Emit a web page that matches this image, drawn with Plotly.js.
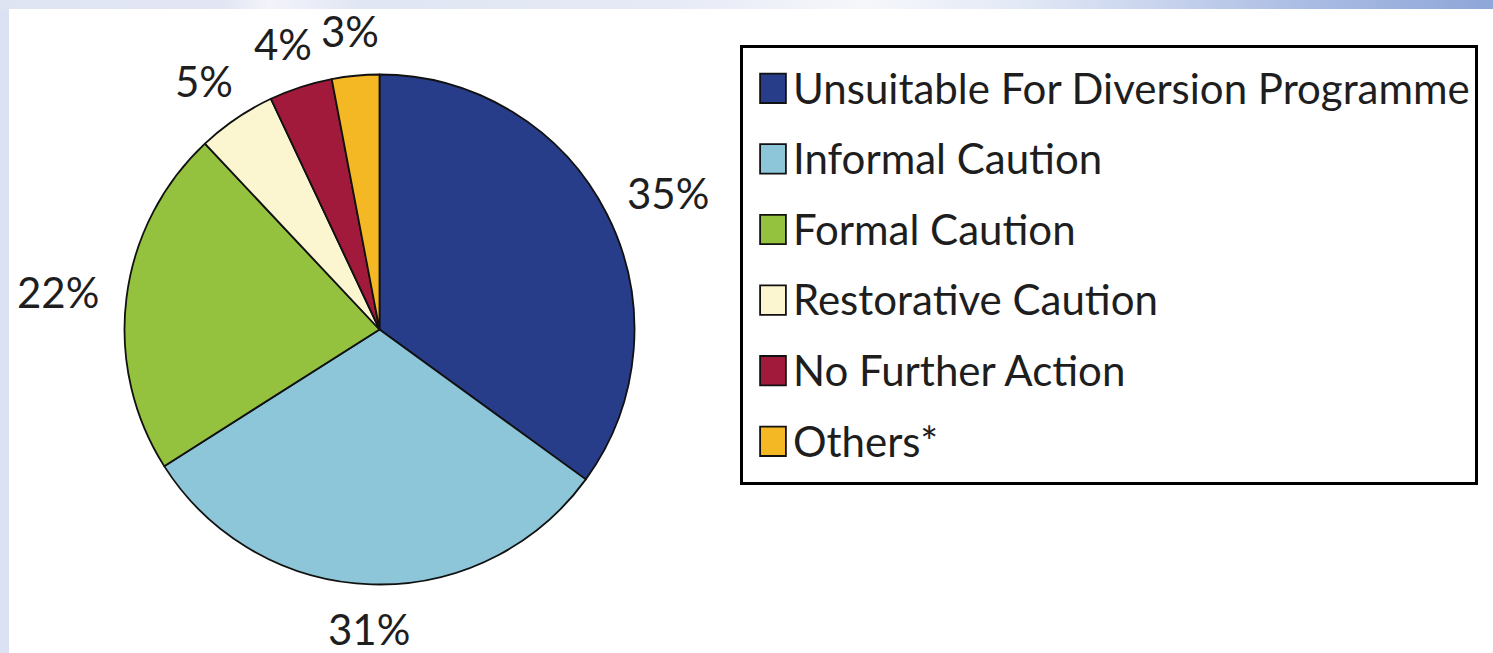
<!DOCTYPE html>
<html>
<head>
<meta charset="utf-8">
<script src="https://cdn.plot.ly/plotly-3.0.1.min.js"></script>
<style>
  html, body { margin: 0; padding: 0; background: #ffffff; }
  #chart {
    width: 1493px; height: 653px;
    background:
      linear-gradient(to right, #dfe4f3 0%, #e2e6f4 15%, #f3f4fa 18%, #e1e6f4 24%, #e6eaf6 45%, #f6f7fb 58%, #e3e9f6 68%, #c4d0ec 79%, #a9bbe3 88%, #8ea6d8 100%) top left / 100% 9px no-repeat,
      linear-gradient(#dbe2f4, #dbe2f4) top left / 9px 100% no-repeat,
      #ffffff;
  }
  path.legendpie { transform: translate(20px, 0px) scale(2.15, 2.45); vector-effect: non-scaling-stroke; }
</style>
</head>
<body>
<div id="chart"></div>
<script>
const categories = [
  "Unsuitable For Diversion Programme",
  "Informal Caution",
  "Formal Caution",
  "Restorative Caution",
  "No Further Action",
  "Others*"
];
const shares = [35, 31, 22, 5, 4, 3];
const sliceColors = ["#283D8A", "#8DC6D8", "#94C23E", "#FBF6D0", "#A11A3C", "#F4B824"];

const FONT = "Lato, 'Open Sans', sans-serif";
const legendLabels = categories.map(c =>
  "<span style='font-size:42px;baseline-shift:5px'>" + c + "</span>");

const W = 1493, H = 653;
const cx = 379.5, cy = 329.5, r = 255;   // pie placement (px)
const labelSize = 42, labelGap = 30;

// percentage labels placed outside each slice, at the slice's mid-angle
const total = shares.reduce((a, b) => a + b, 0);
let cum = 0;
const annotations = shares.map(v => {
  const theta = (cum + v / 2) / total * 2 * Math.PI;
  cum += v;
  const txt = Math.round(v / total * 100) + "%";
  const s = Math.sin(theta), c = Math.cos(theta);
  const halfW = (0.58 * (txt.length - 1) + 0.71) * labelSize / 2;
  const halfH = 0.36 * labelSize;
  const px = cx + (r + labelGap) * s + halfW * s;
  const py = cy - (r + labelGap) * c - halfH * c;
  return {
    xref: "paper", yref: "paper",
    x: px / W, y: 1 - py / H,
    xanchor: "center", yanchor: "middle",
    text: txt, showarrow: false,
    font: { family: FONT, size: labelSize, color: "#1e1e1e" }
  };
});

const trace = {
  type: "pie",
  labels: legendLabels,
  values: shares,
  sort: false,
  direction: "clockwise",
  rotation: 0,
  textinfo: "none",
  textposition: "none",
  marker: { colors: sliceColors, line: { color: "#111111", width: 1.8 } },
  hoverinfo: "skip",
  domain: {
    x: [(cx - r) / W, (cx + r) / W],
    y: [(H - cy - r) / H, (H - cy + r) / H]
  }
};

const layout = {
  width: W,
  height: H,
  margin: { l: 0, r: 0, t: 0, b: 0 },
  paper_bgcolor: "rgba(0,0,0,0)",
  plot_bgcolor: "rgba(0,0,0,0)",
  showlegend: true,
  legend: {
    x: 740 / W,
    xanchor: "left",
    y: (H - 45) / H,
    yanchor: "top",
    indentation: 10,
    bgcolor: "#ffffff",
    bordercolor: "#000000",
    borderwidth: 3,
    font: { family: FONT, size: 52, color: "#1e1e1e" }
  },
  annotations: annotations
};

Plotly.newPlot("chart", [trace], layout, { displayModeBar: false, staticPlot: true });
</script>
</body>
</html>
